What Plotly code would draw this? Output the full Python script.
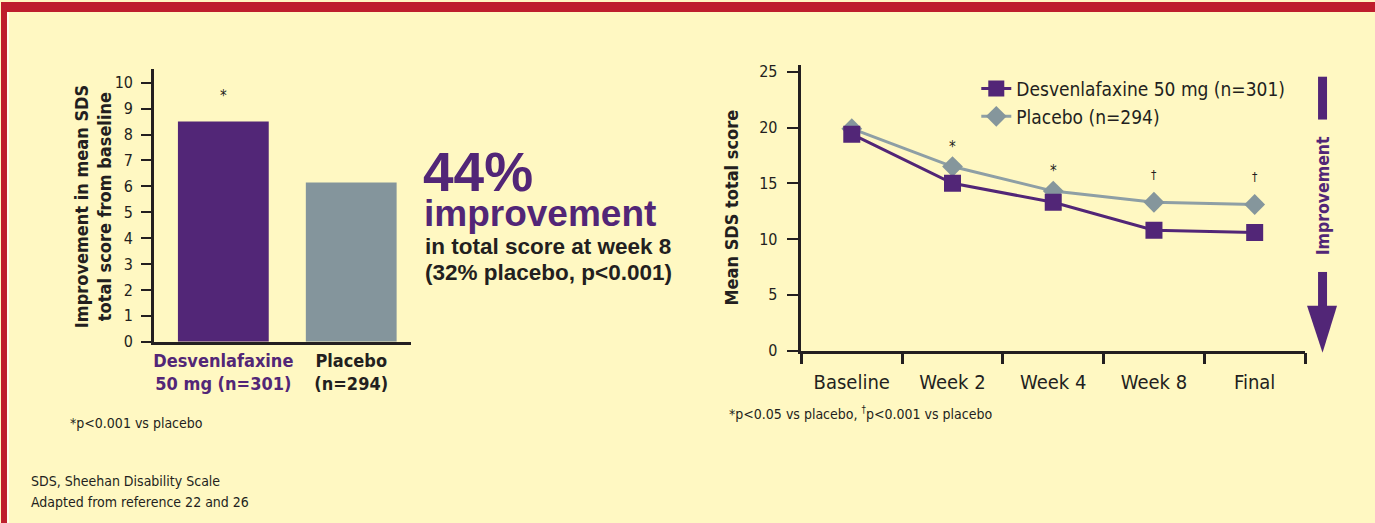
import plotly.graph_objects as go

# ---------------- data ----------------
bar_categories = ["Desvenlafaxine<br>50 mg (n=301)", "Placebo<br>(n=294)"]
bar_values = [8.5, 6.15]
bar_yticks = list(range(0, 11))

line_categories = ["Baseline", "Week 2", "Week 4", "Week 8", "Final"]
desv_values = [19.4, 15.0, 13.3, 10.8, 10.6]
placebo_values = [19.9, 16.5, 14.3, 13.3, 13.1]
line_yticks = [0, 5, 10, 15, 20, 25]
line_sig = ["", "*", "*", "\u2020", "\u2020"]

desv_name = "Desvenlafaxine 50 mg (n=301)"
placebo_name = "Placebo (n=294)"

# ---------------- style ----------------
W, H = 1375, 523
FIG_H = 533
PURPLE = "#522677"
GREY_BAR = "#84959C"
GREY_LINE = "#8E9FA5"
BLACK = "#231F20"
BG = "#FFF8C2"
RED = "#BE1E2D"
NARROW = "Liberation Sans Narrow, DejaVu Sans Condensed, Arial Narrow, sans-serif"
WIDE = "Liberation Sans, Arial, Helvetica, sans-serif"


def X(px):
    return px / W


def Y(py):
    return 1 - py / H


def note(x, y, text, size, color=BLACK, family=NARROW, xanchor="left", angle=0, **kw):
    d = dict(x=X(x), y=Y(y), xref="paper", yref="paper", text=text, showarrow=False,
             xanchor=xanchor, yanchor="middle", textangle=angle,
             font=dict(family=family, size=size, color=color))
    d.update(kw)
    return d


fig = go.Figure()

# bar chart
fig.add_trace(go.Bar(
    x=[0, 1], y=bar_values, width=0.71,
    marker=dict(color=[PURPLE, GREY_BAR], line=dict(width=0)),
    xaxis="x", yaxis="y", showlegend=False, hoverinfo="skip",
))

# line chart
fig.add_trace(go.Scatter(
    x=line_categories, y=placebo_values, name=placebo_name, legendgroup="p",
    mode="lines+markers", xaxis="x2", yaxis="y2",
    line=dict(color=GREY_LINE, width=3),
    marker=dict(symbol="diamond", size=16, color="#85969C"),
))
fig.add_trace(go.Scatter(
    x=line_categories, y=desv_values, name=desv_name, legendgroup="d",
    mode="lines+markers", xaxis="x2", yaxis="y2",
    line=dict(color=PURPLE, width=3),
    marker=dict(symbol="square", size=17, color=PURPLE),
))

annotations = []

# significance marks
annotations.append(dict(x=0, y=bar_values[0], xref="x", yref="y", text="*",
                        showarrow=False, xanchor="center", yanchor="middle", yshift=26,
                        font=dict(family=NARROW, size=15, color=BLACK)))
for cat, v, s in zip(line_categories, placebo_values, line_sig):
    if s:
        annotations.append(dict(x=cat, y=v, xref="x2", yref="y2", text=s,
                                showarrow=False, xanchor="center", yanchor="middle",
                                yshift=20 if s == "*" else 27,
                                font=dict(family=NARROW, size=15 if s == "*" else 12,
                                          color=BLACK)))

# left y title (two lines, tight spacing)
annotations.append(note(80, 205, "<b>Improvement in mean SDS</b>", 18, xanchor="center", angle=-90))
annotations.append(note(103, 205, "<b>total score from baseline</b>", 18, xanchor="center", angle=-90))

# headline text
annotations += [
    note(420, 171, "<b>44%</b>", 55, color=PURPLE, family=WIDE),
    note(421, 212, "<b>improvement</b>", 37, color=PURPLE, family=WIDE),
    note(422, 245, "<b>in total score at week 8</b>", 22.5, family=WIDE),
    note(422, 272, "<b>(32% placebo, p&lt;0.001)</b>", 22.5, family=WIDE),
]

# improvement arrow label
annotations.append(note(1323, 195, "<b>Improvement</b>", 17.5, color=PURPLE,
                        xanchor="center", angle=-90))

# footnotes
annotations += [
    note(67, 423, "*p&lt;0.001 vs placebo", 14),
    note(28, 481, "SDS, Sheehan Disability Scale", 14),
    note(28, 502, "Adapted from reference 22 and 26", 14),
    note(727, 413, "*p&lt;0.05 vs placebo, <sup>\u2020</sup>p&lt;0.001 vs placebo", 14),
]

shapes = [
    # frame
    dict(type="rect", xref="paper", yref="paper", x0=0, x1=1, y0=Y(10), y1=1,
         fillcolor=RED, line=dict(width=0), layer="above"),
    dict(type="rect", xref="paper", yref="paper", x0=0, x1=X(6), y0=0, y1=1,
         fillcolor=RED, line=dict(width=0), layer="above"),
    dict(type="rect", xref="paper", yref="paper", x0=X(6), x1=X(8), y0=0, y1=Y(10),
         fillcolor="#FFFDEB", line=dict(width=0), layer="above"),
    # improvement arrow
    dict(type="rect", xref="paper", yref="paper", x0=X(1318), x1=X(1327), y0=Y(118), y1=Y(75),
         fillcolor=PURPLE, line=dict(width=0)),
    dict(type="rect", xref="paper", yref="paper", x0=X(1318), x1=X(1327), y0=Y(306), y1=Y(271),
         fillcolor=PURPLE, line=dict(width=0)),
    dict(type="path", xref="paper", yref="paper",
         path=f"M {X(1307)},{Y(305)} L {X(1337)},{Y(305)} L {X(1322.5)},{Y(352)} Z",
         fillcolor=PURPLE, line=dict(width=0)),
]


def colored_lines(text, color=None):
    parts = text.split("<br>")
    if color:
        parts = [f"<b><span style='color:{color}'>{p}</span></b>" for p in parts]
    else:
        parts = [f"<b>{p}</b>" for p in parts]
    return "<br>".join(parts)


bar_ticktext = [colored_lines(bar_categories[0], PURPLE), colored_lines(bar_categories[1])]

axis_common = dict(showgrid=False, zeroline=False, showline=True,
                   linecolor=BLACK, linewidth=2.5, tickcolor=BLACK)

fig.update_layout(
    width=W, height=FIG_H, autosize=False,
    margin=dict(l=0, r=0, t=0, b=0),
    paper_bgcolor=BG, plot_bgcolor="rgba(0,0,0,0)",
    font=dict(family=NARROW, color=BLACK),
    xaxis=dict(domain=[X(153), X(410)], range=[-0.543, 1.465], anchor="y",
               tickvals=[0, 1], ticktext=bar_ticktext, ticks="", tickangle=0,
               ticklabelstandoff=1,
               tickfont=dict(family=NARROW, size=18, color=BLACK), **axis_common),
    yaxis=dict(domain=[Y(341), Y(67)], range=[0, 10.54], anchor="x",
               tickvals=bar_yticks, ticks="outside", ticklen=10, tickwidth=2,
               ticklabelstandoff=5,
               tickfont=dict(family=NARROW, size=16, color=BLACK), **axis_common),
    xaxis2=dict(domain=[X(801), X(1305)], range=[-0.5, 4.5], anchor="y2",
                type="category", categoryorder="array", categoryarray=line_categories,
                tickson="boundaries", ticks="outside", ticklen=11, tickwidth=2.5,
                ticklabelstandoff=12, tickangle=0,
                tickfont=dict(family=NARROW, size=20, color=BLACK), **axis_common),
    yaxis2=dict(domain=[Y(350), Y(63)], range=[0, 25.625], anchor="x2",
                tickvals=line_yticks, ticks="outside", ticklen=12, tickwidth=2,
                ticklabelstandoff=6,
                tickfont=dict(family=NARROW, size=16, color=BLACK),
                title=dict(text="<b>Mean SDS total score</b>", standoff=16,
                           font=dict(family=NARROW, size=18, color=BLACK)),
                **axis_common),
    legend=dict(x=X(976), y=Y(68), xanchor="left", yanchor="top",
                traceorder="reversed", bgcolor="rgba(0,0,0,0)", tracegroupgap=6,
                font=dict(family=NARROW, size=19, color=BLACK)),
    annotations=annotations,
    shapes=shapes,
)

page_fix = (
    "var s=document.createElement('style');"
    f"s.textContent='html,body{{margin:0;padding:0;overflow:hidden;background:{BG};}}';"
    "document.head.appendChild(s);"
)

fig.write_html(
    "out.html",
    config={"displayModeBar": False, "responsive": False},
    post_script=page_fix,
)
